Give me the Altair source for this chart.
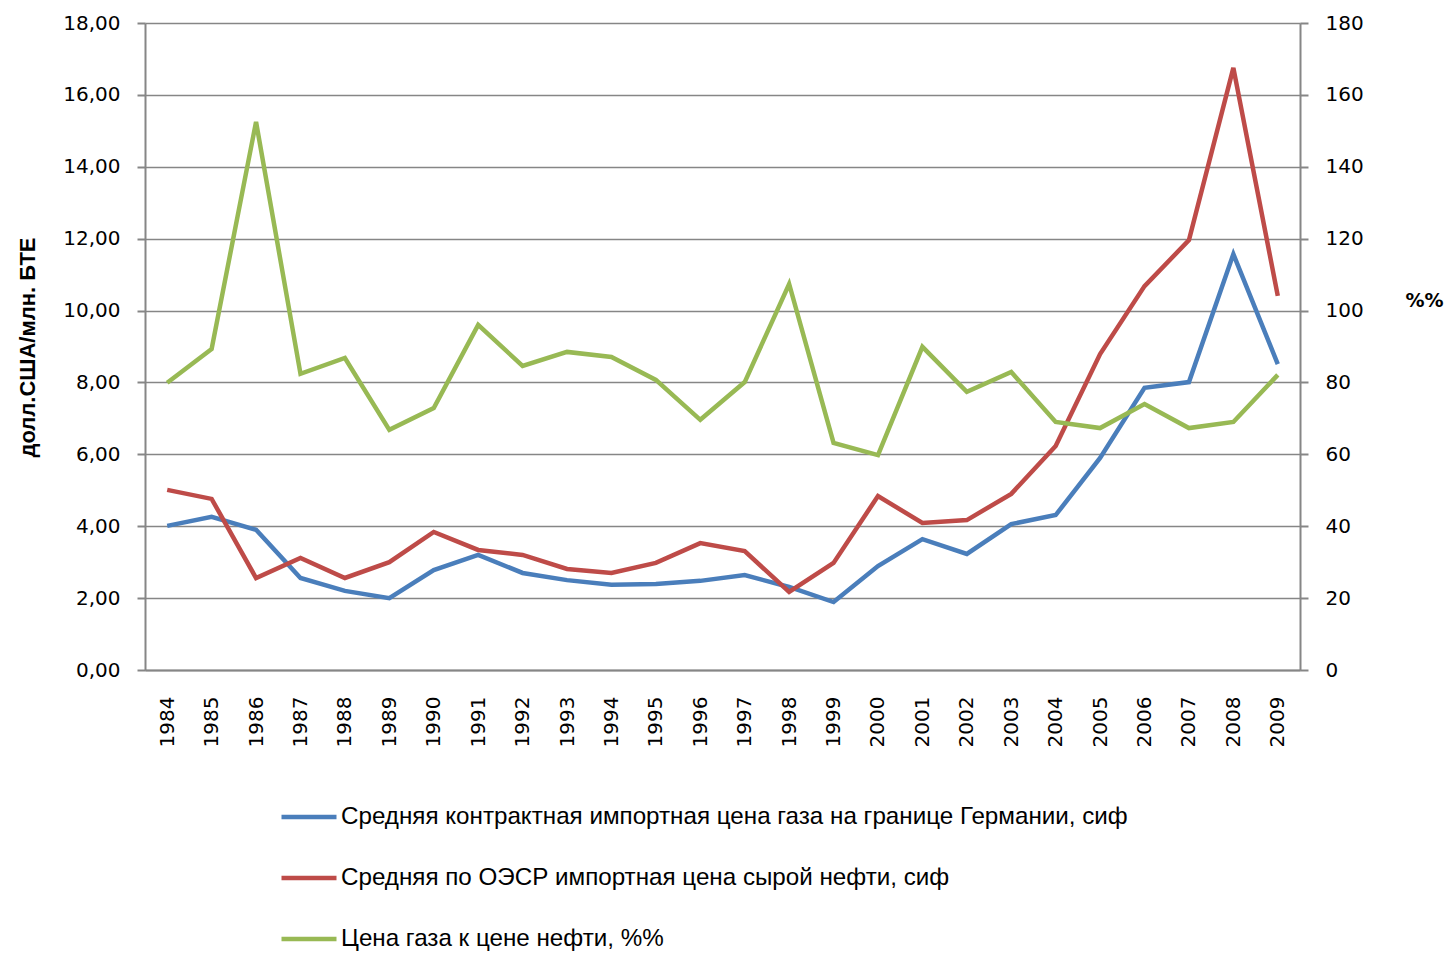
import altair as alt
import pandas as pd

years = list(range(1984, 2010))
gas = [4.01, 4.26, 3.90, 2.56, 2.20, 2.00, 2.78, 3.20, 2.70, 2.50, 2.37, 2.39, 2.48,
       2.64, 2.31, 1.89, 2.89, 3.64, 3.23, 4.06, 4.31, 5.90, 7.85, 8.01, 11.57, 8.51]
oil = [5.01, 4.76, 2.56, 3.12, 2.56, 3.00, 3.84, 3.34, 3.20, 2.81, 2.70, 2.98, 3.53,
       3.31, 2.17, 2.98, 4.84, 4.09, 4.17, 4.90, 6.23, 8.79, 10.68, 11.96, 16.75, 10.41]
ratio = [79.9, 89.3, 152.5, 82.4, 86.8, 66.8, 72.9, 96.0, 84.6, 88.5, 87.1, 80.7, 69.6,
         80.1, 107.4, 63.2, 59.8, 89.9, 77.4, 82.9, 69.0, 67.3, 74.0, 67.3, 69.0, 82.1]
names = [
    "Средняя контрактная импортная цена газа на границе Германии, сиф",
    "Средняя по ОЭСР импортная цена сырой нефти, сиф",
    "Цена газа к цене нефти, %%",
]
colors = ["#4A7EBB", "#BE4B48", "#98B954"]
left_title = "долл.США/млн. БТЕ"
right_title = "%%"

df_left = pd.DataFrame({
    "year": years * 2,
    "series": [names[0]] * len(years) + [names[1]] * len(years),
    "value": gas + oil,
})
df_right = pd.DataFrame({"year": years, "series": names[2], "value": ratio})

AX = "#868686"
LBL = "DejaVu Sans"
NARROW = "Liberation Sans"

x = alt.X(
    "year:O",
    scale=alt.Scale(type="point", padding=0.5),
    axis=alt.Axis(
        title=None, labelAngle=270, ticks=False, labelPadding=26,
        labelFont=LBL, labelFontSize=20, labelColor="#000000",
        domainColor=AX, domainWidth=2, grid=False,
    ),
)

color = alt.Color(
    "series:N",
    scale=alt.Scale(domain=names, range=colors),
    legend=alt.Legend(
        title=None, orient="none", legendX=134, legendY=764, direction="vertical",
        symbolType="stroke", symbolSize=3025, symbolStrokeWidth=4.5,
        labelFont=NARROW, labelFontSize=24.2, labelColor="#000000", labelLimit=2000,
        rowPadding=18, labelOffset=2, padding=0,
    ),
)

left = alt.Chart(df_left).mark_line(strokeWidth=4.5).encode(
    x=x,
    y=alt.Y(
        "value:Q",
        scale=alt.Scale(domain=[0, 18], nice=False),
        axis=alt.Axis(
            values=[0, 2, 4, 6, 8, 10, 12, 14, 16, 18],
            labelExpr="replace(format(datum.value, '.2f'), '.', ',')",
            labelFont=LBL, labelFontSize=20, labelColor="#000000", labelPadding=17,
            tickSize=8, tickColor=AX, tickWidth=2, domainColor=AX, domainWidth=2,
            grid=True, gridColor=AX, gridWidth=1.5,
            title=left_title, titleFont=NARROW, titleFontSize=22, titleFontWeight="bold",
            titleColor="#000000", titleAngle=270, titleX=-118, titleY=324,
            titleAlign="center", titleBaseline="middle",
        ),
    ),
    color=color,
)

right = alt.Chart(df_right).mark_line(strokeWidth=4.5).encode(
    x=x,
    y=alt.Y(
        "value:Q",
        scale=alt.Scale(domain=[0, 180], nice=False),
        axis=alt.Axis(
            orient="right",
            values=[0, 20, 40, 60, 80, 100, 120, 140, 160, 180],
            labelFont=LBL, labelFontSize=20, labelColor="#000000", labelPadding=17,
            tickSize=8, tickColor=AX, tickWidth=2, domainColor=AX, domainWidth=2,
            grid=False,
            title=right_title, titleFont=LBL, titleFontSize=19, titleFontWeight="bold",
            titleColor="#000000", titleAngle=0, titleX=124, titleY=277,
            titleAlign="center", titleBaseline="middle",
        ),
    ),
    color=color,
)

chart = alt.layer(left, right).resolve_scale(y="independent").properties(
    width=1155, height=647,
    autosize=alt.AutoSizeParams(type="none"),
    padding={"left": 137, "top": 15, "right": 144, "bottom": 284},
).configure_view(stroke=None).configure(background="white")

chart.save("out.html", embed_options={"renderer": "svg", "actions": False})
